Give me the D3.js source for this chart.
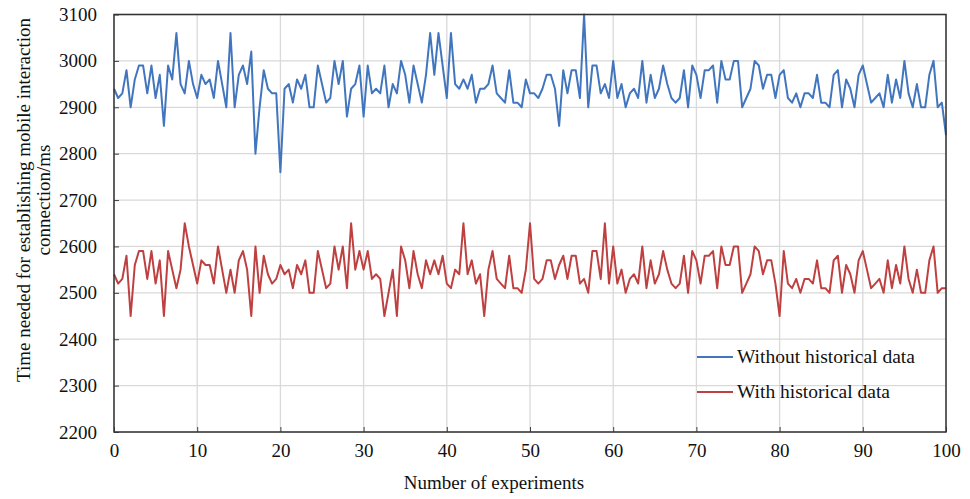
<!DOCTYPE html>
<html>
<head>
<meta charset="utf-8">
<script src="https://cdn.jsdelivr.net/npm/d3@7"></script>
<style>
  body { margin: 0; background: #fff; }
  #wrapper { width: 970px; height: 499px; }
</style>
</head>
<body>
<div id="wrapper"></div>
<script>
const withoutHistory = [
  2940, 2920, 2930, 2980, 2900, 2960, 2990, 2990, 2930, 2990,
  2920, 2970, 2860, 2990, 2960, 3060, 2950, 2930, 3000, 2950,
  2920, 2970, 2950, 2960, 2920, 3000, 2950, 2900, 3060, 2900,
  2970, 2990, 2950, 3020, 2800, 2900, 2980, 2940, 2930, 2930,
  2760, 2940, 2950, 2910, 2960, 2940, 2970, 2900, 2900, 2990,
  2950, 2910, 2920, 3000, 2950, 3000, 2880, 2940, 2950, 2990,
  2880, 2990, 2930, 2940, 2930, 2990, 2900, 2950, 2930, 3000,
  2970, 2910, 2990, 2950, 2910, 2970, 3060, 2970, 3060, 2990,
  2920, 3060, 2950, 2940, 2960, 2940, 2970, 2910, 2940, 2940,
  2950, 2990, 2930, 2920, 2910, 2980, 2910, 2910, 2900, 2960,
  2930, 2930, 2920, 2940, 2970, 2970, 2940, 2860, 2980, 2930,
  2980, 2980, 2920, 3100, 2900, 2990, 2990, 2930, 2950, 2920,
  3000, 2920, 2950, 2900, 2930, 2940, 2920, 3000, 2910, 2970,
  2920, 2940, 2990, 2950, 2920, 2910, 2920, 2980, 2900, 2990,
  2970, 2920, 2980, 2980, 2990, 2910, 3000, 2960, 2960, 3000,
  3000, 2900, 2920, 2940, 3000, 2990, 2940, 2970, 2970, 2920,
  2970, 2980, 2920, 2910, 2930, 2900, 2930, 2930, 2920, 2970,
  2910, 2910, 2900, 2970, 2980, 2900, 2960, 2940, 2900, 2970,
  2990, 2950, 2910, 2920, 2930, 2900, 2970, 2910, 2960, 2920,
  3000, 2930, 2900, 2950, 2900, 2900, 2970, 3000, 2900, 2910,
  2840
]

const withHistory = [
  2540, 2520, 2530, 2580, 2450, 2560, 2590, 2590, 2530, 2590,
  2520, 2570, 2450, 2590, 2550, 2510, 2550, 2650, 2600, 2560,
  2520, 2570, 2560, 2560, 2520, 2600, 2550, 2500, 2550, 2500,
  2570, 2590, 2550, 2450, 2600, 2500, 2580, 2540, 2520, 2530,
  2560, 2540, 2550, 2510, 2560, 2540, 2570, 2500, 2500, 2590,
  2550, 2510, 2520, 2600, 2550, 2600, 2510, 2650, 2550, 2590,
  2550, 2590, 2530, 2540, 2530, 2450, 2500, 2550, 2450, 2600,
  2570, 2510, 2590, 2540, 2510, 2570, 2540, 2570, 2540, 2580,
  2520, 2510, 2550, 2540, 2650, 2540, 2570, 2520, 2540, 2450,
  2550, 2590, 2530, 2520, 2510, 2580, 2510, 2510, 2500, 2550,
  2650, 2530, 2520, 2530, 2570, 2570, 2530, 2560, 2580, 2530,
  2580, 2580, 2520, 2530, 2500, 2590, 2590, 2530, 2650, 2520,
  2600, 2520, 2550, 2500, 2530, 2540, 2520, 2600, 2510, 2570,
  2520, 2540, 2590, 2550, 2520, 2510, 2520, 2580, 2500, 2590,
  2570, 2520, 2580, 2580, 2590, 2510, 2600, 2560, 2560, 2600,
  2600, 2500, 2520, 2540, 2600, 2590, 2540, 2570, 2570, 2520,
  2450, 2590, 2520, 2510, 2530, 2500, 2530, 2530, 2520, 2570,
  2510, 2510, 2500, 2570, 2580, 2500, 2560, 2540, 2500, 2570,
  2590, 2550, 2510, 2520, 2530, 2500, 2570, 2510, 2560, 2520,
  2600, 2530, 2500, 2550, 2500, 2500, 2570, 2600, 2500, 2510,
  2510
]

const experiments = withoutHistory.map((d, i) => i / 2)

const xTicks = [0, 10, 20, 30, 40, 50, 60, 70, 80, 90, 100]
const yTicks = [2200, 2300, 2400, 2500, 2600, 2700, 2800, 2900, 3000, 3100]

const seriesNames = ["Without historical data", "With historical data"]
const seriesColors = ["#4176bf", "#bf4040"]

function drawChart() {
  // 1. Data
  const series = [withoutHistory, withHistory].map((values, i) => ({
    name: seriesNames[i],
    color: seriesColors[i],
    points: values.map((v, j) => ({ x: experiments[j], y: v })),
  }))

  const xAccessor = (d) => d.x
  const yAccessor = (d) => d.y

  // 2. Dimensions
  const dimensions = {
    width: 970,
    height: 499,
    margins: { top: 14.5, right: 24, bottom: 67, left: 114 },
  }
  dimensions.boundedWidth =
    dimensions.width - dimensions.margins.left - dimensions.margins.right
  dimensions.boundedHeight =
    dimensions.height - dimensions.margins.top - dimensions.margins.bottom

  const font = "'Liberation Serif', 'Times New Roman', serif"

  // 3. Canvas
  const wrapper = d3
    .select("#wrapper")
    .append("svg")
    .attr("width", dimensions.width)
    .attr("height", dimensions.height)

  const bounds = wrapper
    .append("g")
    .attr(
      "transform",
      `translate(${dimensions.margins.left}, ${dimensions.margins.top})`
    )

  // 4. Scales
  const xScale = d3
    .scaleLinear()
    .domain([0, 100])
    .range([0, dimensions.boundedWidth])

  const yScale = d3
    .scaleLinear()
    .domain([2200, 3100])
    .range([dimensions.boundedHeight, 0])

  // 5. Grid
  const grid = bounds.append("g").attr("stroke", "#d9d9d9").attr("stroke-width", 1.3)
  grid
    .selectAll(".h")
    .data(yTicks)
    .join("line")
    .attr("x1", 0)
    .attr("x2", dimensions.boundedWidth)
    .attr("y1", (d) => yScale(d))
    .attr("y2", (d) => yScale(d))
  grid
    .selectAll(".v")
    .data(xTicks)
    .join("line")
    .attr("x1", (d) => xScale(d))
    .attr("x2", (d) => xScale(d))
    .attr("y1", 0)
    .attr("y2", dimensions.boundedHeight)

  // 6. Lines
  const lineGenerator = d3
    .line()
    .x((d) => xScale(xAccessor(d)))
    .y((d) => yScale(yAccessor(d)))

  bounds
    .selectAll(".series")
    .data(series)
    .join("path")
    .attr("class", "series")
    .attr("d", (d) => lineGenerator(d.points))
    .attr("fill", "none")
    .attr("stroke", (d) => d.color)
    .attr("stroke-width", 2)
    .attr("stroke-linejoin", "round")

  // 7. Axes
  const xAxis = bounds
    .append("g")
    .attr("transform", `translate(0, ${dimensions.boundedHeight})`)
    .call(
      d3.axisBottom(xScale).tickValues(xTicks).tickSizeInner(-5).tickSizeOuter(0).tickPadding(12)
    )
  const yAxis = bounds
    .append("g")
    .call(
      d3
        .axisLeft(yScale)
        .tickValues(yTicks)
        .tickFormat(d3.format("d"))
        .tickSizeInner(-5)
        .tickSizeOuter(0)
        .tickPadding(17)
    )

  ;[xAxis, yAxis].forEach((axis) => {
    axis.select(".domain").remove()
    axis.selectAll("line").attr("stroke", "#404040")
    axis
      .selectAll("text")
      .attr("fill", "#111")
      .style("font-family", font)
      .style("font-size", "19px")
  })

  bounds
    .append("rect")
    .attr("width", dimensions.boundedWidth)
    .attr("height", dimensions.boundedHeight)
    .attr("fill", "none")
    .attr("stroke", "#333")
    .attr("stroke-width", 1.5)

  wrapper
    .append("text")
    .text("Number of experiments")
    .attr("x", 494)
    .attr("y", 489)
    .attr("text-anchor", "middle")
    .attr("fill", "#111")
    .style("font-family", font)
    .style("font-size", "19px")

  const yLabel = wrapper
    .append("text")
    .attr("transform", "translate(23, 200) rotate(-90)")
    .attr("text-anchor", "middle")
    .attr("fill", "#111")
    .style("font-family", font)
    .style("font-size", "19px")
  yLabel.append("tspan").attr("x", 0).attr("dy", "0.35em").text("Time needed for establishing mobile interaction")
  yLabel.append("tspan").attr("x", 0).attr("dy", "1.05em").text("connection/ms")

  // 8. Legend
  const legend = wrapper
    .append("g")
    .selectAll("g")
    .data(series)
    .join("g")
    .attr("transform", (d, i) => `translate(697, ${357 + i * 35})`)

  legend
    .append("line")
    .attr("x1", 0)
    .attr("x2", 36)
    .attr("stroke", (d) => d.color)
    .attr("stroke-width", 2)

  legend
    .append("text")
    .text((d) => d.name)
    .attr("x", 40)
    .attr("dy", "0.33em")
    .attr("fill", "#111")
    .style("font-family", font)
    .style("font-size", "19.5px")
}

drawChart()
</script>
</body>
</html>
